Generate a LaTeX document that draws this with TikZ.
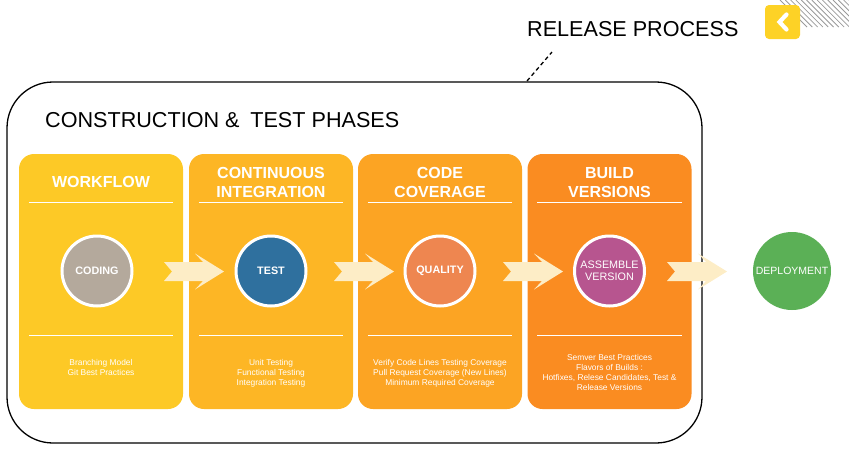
\documentclass[tikz,border=0pt]{standalone}
\usepackage{fontspec}
\setmainfont{Liberation Sans}
\usetikzlibrary{calc}
\definecolor{pa}{HTML}{FDC926}
\definecolor{pb}{HTML}{FDB625}
\definecolor{pc}{HTML}{FCA423}
\definecolor{pd}{HTML}{FA8C21}
\definecolor{ccoding}{HTML}{B4A99C}
\definecolor{ctest}{HTML}{2F709E}
\definecolor{cquality}{HTML}{EE8650}
\definecolor{cassemble}{HTML}{B7558F}
\definecolor{cdeploy}{HTML}{5BB056}
\definecolor{arrowcream}{HTML}{FDEDC6}
\definecolor{iconyellow}{HTML}{FDD226}
\definecolor{hatchgray}{HTML}{9A9A9A}
\tikzset{
  panel/.style={draw=none, rounded corners=15pt, minimum width=164pt, minimum height=255pt, inner sep=0pt},
  sepline/.style={draw=white, line width=0.9pt},
  ptitle/.style={text=white, align=center, font=\fontsize{16}{19}\selectfont\bfseries, inner sep=0pt},
  stage/.style={circle, draw=white, line width=3pt, minimum size=70pt, inner sep=0pt, text=white, align=center},
  stagebold/.style={stage, font=\fontsize{10.8}{12}\selectfont\bfseries},
  stagereg/.style={stage, font=\fontsize{10.8}{12}\selectfont},
  desc/.style={text=white, align=center, font=\fontsize{8.4}{10}\selectfont, inner sep=0pt, anchor=north},
  heading/.style={font=\fontsize{21.6}{24}\selectfont, inner sep=0pt, anchor=base west},
  chev/.pic={\fill[arrowcream] (-30,-9.5) -- (9,-9.5) -- (1,-18) -- (30,0) -- (1,18) -- (9,9.5) -- (-30,9.5) -- (-22,0) -- cycle;}
}
\begin{document}
\begin{tikzpicture}[x=1pt,y=-1pt]
\useasboundingbox (0,0) rectangle (849,451);
% hatch
\begin{scope}
\clip (776,0) rectangle (849,30);
\foreach \h in {780,785.3,...,852} {\draw[hatchgray, line width=0.8pt] (\h,0) -- (\h+27,27);}
\end{scope}
% icon
\node[fill=iconyellow, rounded corners=4pt, minimum width=35pt, minimum height=34pt, inner sep=0pt] (icon) at (782.5,22) {};
\draw[white, line width=4.2pt, line cap=round] (786.5,14.5) -- (779.5,22) -- (786.5,29.5);
% headings
\node[heading] (rel) at (527,36) {RELEASE PROCESS};
\node[heading] (cons) at (45,127) {CONSTRUCTION \&\hspace{0.5em}TEST PHASES};
% outer frame
\draw[line width=1.3pt, rounded corners=46pt] (7,82) rectangle (702,443);
\coordinate (dashtop) at (552,52);
\coordinate (dashbot) at (527,81);
\draw[line width=1.3pt, dash pattern=on 4pt off 3pt] (dashbot) -- (dashtop);
% panels
\node[panel, fill=pa] (P1) at (101,281.5) {};
\node[panel, fill=pb] (P2) at (271,281.5) {};
\node[panel, fill=pc] (P3) at (440,281.5) {};
\node[panel, fill=pd] (P4) at (609.5,281.5) {};
\foreach \p in {P1,P2,P3,P4} {
  \draw[sepline] ($(\p.north west)+(10,49)$) -- ($(\p.north east)+(-10,49)$);
  \draw[sepline] ($(\p.north west)+(10,182)$) -- ($(\p.north east)+(-10,182)$);
}
% titles
\node[ptitle] (t1) at (101,182) {WORKFLOW};
\node[ptitle] (t2) at (271,182.5) {CONTINUOUS\\INTEGRATION};
\node[ptitle] (t3) at (440,182.5) {CODE\\COVERAGE};
\node[ptitle] (t4) at (609.5,182.5) {BUILD\\VERSIONS};
% arrows
\pic at (194,271.5) {chev};
\pic at (364,271.5) {chev};
\pic at (533,271.5) {chev};
\pic at (697,271.5) {chev};
% circles
\node[stagebold, fill=ccoding] (coding) at (97,271) {CODING};
\node[stagebold, fill=ctest] (test) at (271,271) {TEST};
\node[stagebold, fill=cquality] (quality) at (440,271) {QUALITY};
\node[stagereg, fill=cassemble] (assemble) at (609.5,271) {ASSEMBLE\\VERSION};
\node[circle, fill=cdeploy, minimum size=78pt, inner sep=0pt, text=white, font=\fontsize{10.5}{12}\selectfont] (deploy) at (792,271) {DEPLOYMENT};
% descriptions
\node[desc] (d1) at (101,359.5) {Branching Model\\Git Best Practices};
\node[desc] (d2) at (271,359.5) {Unit Testing\\Functional Testing\\Integration Testing};
\node[desc] (d3) at (440,359.5) {Verify Code Lines Testing Coverage\\Pull Request Coverage (New Lines)\\Minimum Required Coverage};
\node[desc] (d4) at (609.5,354.5) {Semver Best Practices\\Flavors of Builds :\\Hotfixes, Relese Candidates, Test \&\\Release Versions};
\end{tikzpicture}
\end{document}
